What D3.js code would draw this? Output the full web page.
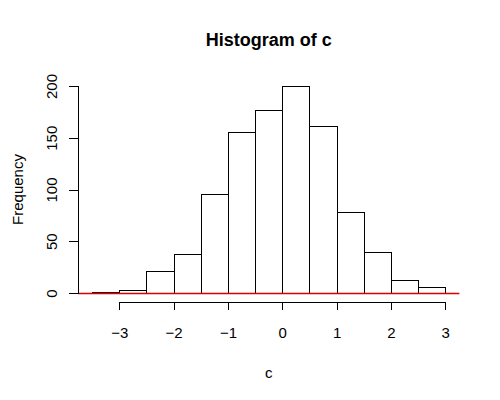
<!DOCTYPE html>
<html>
<head>
<meta charset="utf-8">
<script src="https://cdn.jsdelivr.net/npm/d3@7"></script>
<style>
  body { margin: 0; background: #fff; }
  svg text { font-family: "Liberation Sans", Arial, sans-serif; fill: #000; }
</style>
</head>
<body>
<div id="graph"></div>
<script>
(function(){
	"use strict";

	// histogram bins (break points) and counts
	var breaks = [-3.5, -3, -2.5, -2, -1.5, -1, -0.5, 0, 0.5, 1, 1.5, 2, 2.5, 3];
	var counts = [1, 3, 21, 38, 96, 156, 177, 200, 161, 78, 40, 13, 6];
	var xTicks = [-3, -2, -1, 0, 1, 2, 3];
	var yTicks = [0, 50, 100, 150, 200];

	var width = 500, height = 400;
	// plot region, like R's default margins
	var left = 78, right = 459.4, top = 77.7, bottom = 301.3;

	var xMin = breaks[0], xMax = breaks[breaks.length - 1];
	var xPad = (xMax - xMin) * 0.04;
	var yPad = d3.max(counts) * 0.04;

	var xScale = d3.scaleLinear()
		.domain([xMin - xPad, xMax + xPad])
		.range([left, right]);

	var yScale = d3.scaleLinear()
		.domain([-yPad, d3.max(counts) + yPad])
		.range([bottom, top]);

	var canvas = d3.select("#graph").append("svg")
		.attr("width", width)
		.attr("height", height);

	//bars
	var bins = counts.map(function(c, i){ return {x0: breaks[i], x1: breaks[i + 1], n: c}; });

	canvas.append("g")
		.selectAll("rect")
		.data(bins)
		.enter()
		.append("rect")
		.attr("x", function(d){ return Math.round(xScale(d.x0)) + 0.5; })
		.attr("y", function(d){ return Math.round(yScale(d.n)) + 0.5; })
		.attr("width", function(d){ return Math.round(xScale(d.x1)) - Math.round(xScale(d.x0)); })
		.attr("height", function(d){ return Math.round(yScale(0)) - Math.round(yScale(d.n)); })
		.attr("fill", "#fff")
		.attr("stroke", "#000")
		.attr("stroke-width", 1)
		.attr("shape-rendering", "crispEdges");

	// red line at zero across the plot region (drawn over the bars)
	var zeroY = Math.round(yScale(0)) + 0.5;
	canvas.append("line")
		.attr("x1", left)
		.attr("x2", right)
		.attr("y1", zeroY)
		.attr("y2", zeroY)
		.style("stroke", "rgb(220,0,0)")
		.style("stroke-width", "1.5px");

	//the axis bars - only spanning the tick range like R
	var xAxisScale = d3.scaleLinear()
		.domain([xTicks[0], xTicks[xTicks.length - 1]])
		.range([xScale(xTicks[0]), xScale(xTicks[xTicks.length - 1])]);

	var xAxis = d3.axisBottom(xAxisScale)
		.tickValues(xTicks)
		.tickSize(8)
		.tickSizeOuter(0)
		.tickFormat(d3.format("d"));

	var gx = canvas.append("g")
		.attr("transform", "translate(0," + (bottom + 1) + ")")
		.call(xAxis);
	gx.selectAll("text")
		.style("font-size", "15px")
		.attr("dy", 0)
		.attr("y", 36);

	var yAxisScale = d3.scaleLinear()
		.domain([yTicks[0], yTicks[yTicks.length - 1]])
		.range([yScale(yTicks[0]), yScale(yTicks[yTicks.length - 1])]);

	var yAxis = d3.axisLeft(yAxisScale)
		.tickValues(yTicks)
		.tickSize(9)
		.tickSizeOuter(0);

	var gy = canvas.append("g")
		.attr("transform", "translate(" + left + ",0)")
		.call(yAxis);
	// labels parallel to the axis
	gy.selectAll("text")
		.style("font-size", "15px")
		.attr("x", null)
		.attr("dy", null)
		.attr("text-anchor", "middle")
		.attr("transform", "translate(-21,0) rotate(-90)");

	gx.selectAll(".domain, .tick line")
		.attr("stroke", "#000")
		.attr("shape-rendering", "crispEdges");
	gy.selectAll(".domain, .tick line")
		.attr("stroke", "#000")
		.attr("shape-rendering", "crispEdges");

	//titles
	canvas.append("text")
		.attr("text-anchor", "middle")
		.attr("x", (left + right) / 2)
		.attr("y", 46)
		.style("font-size", "18px")
		.style("font-weight", "bold")
		.text("Histogram of c");

	canvas.append("text")
		.attr("text-anchor", "middle")
		.attr("x", (left + right) / 2)
		.attr("y", 378)
		.style("font-size", "15px")
		.text("c");

	canvas.append("text")
		.attr("text-anchor", "middle")
		.attr("transform", "translate(23," + ((top + bottom) / 2) + ")rotate(-90)")
		.style("font-size", "15px")
		.text("Frequency");
})();
</script>
</body>
</html>
